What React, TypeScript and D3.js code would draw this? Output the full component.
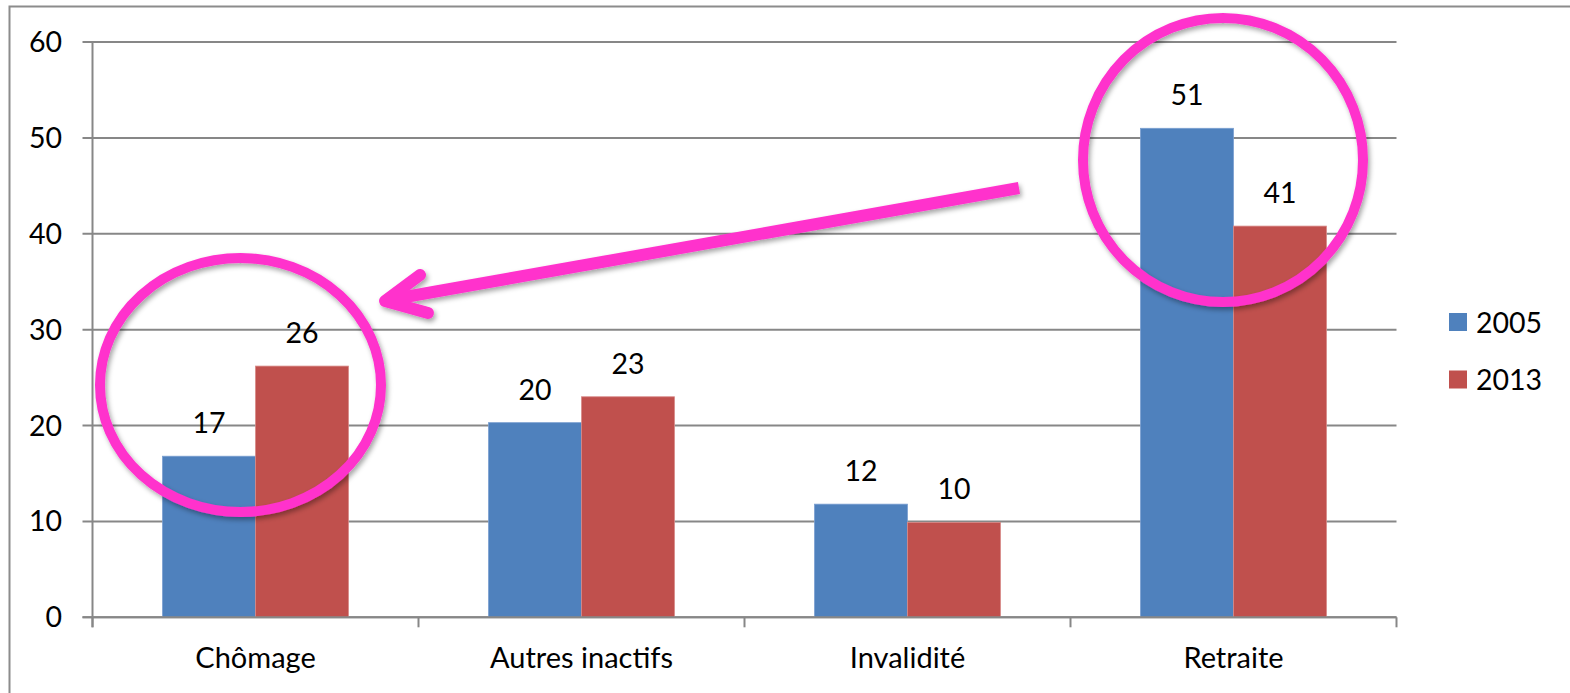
import React from "react";
import * as d3 from "d3";

const categories = ["Chômage", "Autres inactifs", "Invalidité", "Retraite"];
const seriesNames = ["2005", "2013"];
const values2005 = [16.8, 20.3, 11.8, 51.0];
const values2013 = [26.2, 23.0, 9.9, 40.8];
const labels2005 = ["17", "20", "12", "51"];
const labels2013 = ["26", "23", "10", "41"];
const yTicks = [0, 10, 20, 30, 40, 50, 60];
const colors = ["#4F81BD", "#C0504D"];

const W = 1570;
const H = 693;
const FONT = "Lato, 'Open Sans', sans-serif";
const PINK = "#FF33CC";
const FS = 28.5;

export default function App() {
  const plotL = 92.5;
  const plotR = 1396.5;
  const y = d3.scaleLinear().domain([0, 60]).range([617.3, 42]);
  const x0 = d3.scaleBand<string>().domain(categories).range([plotL, plotR]).paddingInner(0).paddingOuter(0);
  const x1 = d3
    .scaleBand<string>()
    .domain(seriesNames)
    .range([0, x0.bandwidth()])
    .paddingInner(0)
    .paddingOuter(0.753);
  const seriesVals = [values2005, values2013];
  const seriesLabels = [labels2005, labels2013];
  const grid = "#878787";

  return (
    <svg
      width={W}
      height={H}
      style={{ position: "absolute", left: 0, top: 0, background: "#fff" }}
      fontFamily={FONT}
    >
      <defs>
        <filter id="sh" x="-20%" y="-20%" width="140%" height="140%">
          <feDropShadow dx="2" dy="3" stdDeviation="2.5" floodColor="#000" floodOpacity="0.35" />
        </filter>
      </defs>
      {/* outer border */}
      <rect x={9.5} y={6.5} width={W + 20} height={H + 20} fill="none" stroke="#8c8c8c" strokeWidth={2} />

      {/* gridlines */}
      {yTicks.map((t) => (
        <g key={t}>
          <line x1={plotL - 10} x2={plotR} y1={y(t)} y2={y(t)} stroke={grid} strokeWidth={2} />
          <text x={62} y={y(t) + 10} fontSize={FS} textAnchor="end" fill="#000">
            {t}
          </text>
        </g>
      ))}
      {/* y axis */}
      <line x1={plotL} x2={plotL} y1={y(60)} y2={y(0) + 10} stroke={grid} strokeWidth={2} />
      {/* x tick marks */}
      {[...categories.map((c) => x0(c)!), plotR].map((xx, i) => (
        <line key={i} x1={xx} x2={xx} y1={y(0)} y2={y(0) + 10} stroke={grid} strokeWidth={2} />
      ))}

      {/* bars */}
      {categories.map((c, ci) =>
        seriesNames.map((s, si) => {
          const bx = x0(c)! + x1(s)!;
          const v = seriesVals[si][ci];
          return (
            <g key={c + s}>
              <rect
                x={bx}
                y={y(v)}
                width={x1.bandwidth()}
                height={y(0) - y(v)}
                fill={colors[si]}
                stroke={si === 0 ? "#7a9fd0" : "#d88a88"}
                strokeWidth={0.8}
              />
              <text
                x={bx + x1.bandwidth() / 2}
                y={y(v) - 23}
                fontSize={FS}
                textAnchor="middle"
                fill="#000"
              >
                {seriesLabels[si][ci]}
              </text>
            </g>
          );
        })
      )}
      {/* redraw baseline over bars */}
      <line x1={plotL - 10} x2={plotR} y1={y(0)} y2={y(0)} stroke={grid} strokeWidth={2} />

      {/* category labels */}
      {categories.map((c) => (
        <text key={c} x={x0(c)! + x0.bandwidth() / 2} y={668} fontSize={FS + 0.5} textAnchor="middle" fill="#000">
          {c}
        </text>
      ))}

      {/* legend */}
      {seriesNames.map((s, i) => (
        <g key={s} transform={`translate(1449, ${313 + i * 57.5})`}>
          <rect x={0} y={0} width={18} height={18} fill={colors[i]} />
          <text x={27} y={19.5} fontSize={FS} fill="#000">
            {s}
          </text>
        </g>
      ))}

      {/* annotations */}
      <g filter="url(#sh)" fill="none" stroke={PINK} strokeWidth={10}>
        <ellipse cx={1223} cy={160} rx={140} ry={142} />
        <ellipse cx={240.5} cy={385} rx={140.5} ry={127} />
        <line x1={1019} y1={188} x2={388} y2={300} strokeWidth={12} strokeLinecap="butt" />
        <polyline
          points="420,275 385,301 428,313"
          strokeWidth={12}
          strokeLinecap="round"
          strokeLinejoin="round"
        />
      </g>
    </svg>
  );
}
